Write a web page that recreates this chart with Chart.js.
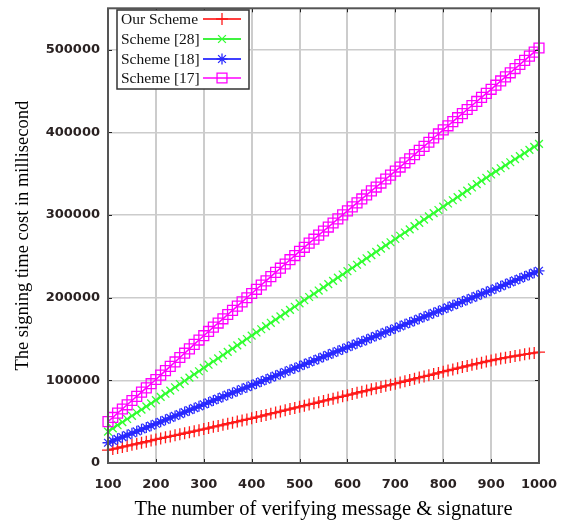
<!DOCTYPE html>
<html><head><meta charset="utf-8">
<script src="https://cdn.jsdelivr.net/npm/chart.js@4/dist/chart.umd.min.js"></script>
<style>html,body{margin:0;padding:0;background:#fff}#wrap{width:567px;height:523px}</style>
</head><body><div id="wrap"><canvas id="c" width="567" height="523"></canvas></div>
<script>
const messages = [100,110,120,130,140,150,160,170,180,190,
200,210,220,230,240,250,260,270,280,290,
300,310,320,330,340,350,360,370,380,390,
400,410,420,430,440,450,460,470,480,490,
500,510,520,530,540,550,560,570,580,590,
600,610,620,630,640,650,660,670,680,690,
700,710,720,730,740,750,760,770,780,790,
800,810,820,830,840,850,860,870,880,890,
900,910,920,930,940,950,960,970,980,990,1000];

const ourScheme = [15500,16900,18100,19400,20600,22000,23200,24500,25700,27100,
28500,29700,31000,32200,33500,34700,36000,37200,38500,39700,
41000,42300,43700,44900,46200,47600,48800,50100,51500,52700,
54000,55500,56800,58200,59700,61000,62400,63900,65200,66600,
68000,69400,70900,72200,73600,75100,76400,77800,79300,80600,
82000,83400,84900,86200,87600,89100,90400,91800,93300,94600,
96000,97500,98900,100400,101800,103300,104700,106100,107600,109000,
110500,111900,113200,114700,116000,117400,118700,120100,121400,122800,
124000,125200,126300,127400,128300,129400,130400,131400,132300,133200,
134000];

const scheme28 = [38000,41800,45700,49400,53200,57100,60800,64600,68500,72200,
76000,79900,83800,87600,91600,95500,99300,103300,107200,111000,
115000,118900,122800,126600,130600,134500,138300,142300,146200,150000,
154000,157900,161800,165600,169600,173500,177300,181300,185200,189000,
193000,196900,200800,204600,208600,212500,216300,220300,224200,228000,
232000,235900,239800,243600,247600,251500,255300,259300,263200,267000,
271000,274900,278800,282600,286600,290500,294300,298300,302200,306000,
310000,313900,317800,321600,325600,329500,333300,337300,341200,345000,
349000,352700,356500,360100,363800,367600,371200,374900,378700,382300,
386000];

const scheme18 = [24500,26800,29200,31400,33800,36000,38300,40700,42900,45200,
47500,49800,52200,54500,56900,59200,61600,63900,66300,68600,
71000,73300,75700,77900,80200,82600,84800,87100,89500,91700,
94000,96300,98700,100900,103200,105600,107800,110100,112500,114700,
117000,119300,121700,123900,126200,128600,130800,133100,135500,137700,
140000,142300,144700,146900,149200,151600,153800,156100,158500,160700,
163000,165300,167700,169900,172200,174600,176800,179100,181500,183700,
186000,188300,190700,192900,195200,197600,199800,202100,204500,206700,
209000,211400,213700,216100,218400,220800,223100,225500,227800,230200,
232500];

const scheme17 = [50000,55100,60300,65300,70400,75600,80600,85700,90900,95900,
101000,106300,111700,116900,122200,127600,132800,138100,143500,148700,
154000,159100,164300,169300,174400,179600,184600,189700,194900,199900,
205000,210100,215300,220300,225400,230600,235600,240700,245900,250900,
256000,260900,265900,270700,275600,280600,285400,290300,295300,300100,
305000,309800,314700,319400,324200,329100,333800,338600,343500,348200,
353000,358000,363100,368000,373000,378100,383000,388000,393100,398000,
403000,407900,412900,417700,422600,427600,432400,437300,442300,447100,
452000,457000,462100,467000,472000,477100,482000,487000,492100,497000,
502000];

const xTicks = [100,200,300,400,500,600,700,800,900,1000];
const yTicks = [0,100000,200000,300000,400000,500000];
const seriesNames = ['Our Scheme','Scheme [28]','Scheme [18]','Scheme [17]'];
const xTitle = 'The number of verifying message & signature';
const yTitle = 'The signing time cost in millisecond';

const styles = [
  {line:'#ff0000', mark:'#ff1a1a', shape:'cross', r:6},
  {line:'#00ee00', mark:'#33ff33', shape:'crossRot', r:5.5},
  {line:'#0000ff', mark:'#2a2aff', shape:'star', r:5.5},
  {line:'#ff00ff', mark:'#ff00ff', shape:'rect', r:7}
];
const seriesData = [ourScheme, scheme28, scheme18, scheme17];

const datasets = seriesData.map((arr, i) => ({
  label: seriesNames[i],
  data: arr.map((v, j) => ({x: messages[j], y: v})),
  borderColor: styles[i].line,
  borderWidth: 1.5,
  pointStyle: styles[i].shape,
  pointRadius: styles[i].r,
  pointBorderColor: styles[i].mark,
  pointBackgroundColor: 'rgba(0,0,0,0)',
  pointBorderWidth: 1.3,
  tension: 0,
  clip: false,
  order: 3 - i
}));

const framePlugin = {
  id: 'frame',
  afterDatasetsDraw(chart) {
    const {ctx, chartArea: a, scales} = chart;
    ctx.save();
    ctx.strokeStyle = '#222';
    ctx.lineWidth = 1;
    xTicks.forEach(v => {
      const x = Math.round(scales.x.getPixelForValue(v)) + 0.5;
      ctx.beginPath();
      ctx.moveTo(x, a.bottom); ctx.lineTo(x, a.bottom - 4);
      ctx.moveTo(x, a.top); ctx.lineTo(x, a.top + 4);
      ctx.stroke();
    });
    yTicks.forEach(v => {
      const y = Math.round(scales.y.getPixelForValue(v)) + 0.5;
      ctx.beginPath();
      ctx.moveTo(a.left, y); ctx.lineTo(a.left + 4, y);
      ctx.moveTo(a.right, y); ctx.lineTo(a.right - 4, y);
      ctx.stroke();
    });
    ctx.strokeStyle = '#555';
    ctx.lineWidth = 2;
    ctx.strokeRect(a.left, a.top, a.right - a.left, a.bottom - a.top);

    // legend box
    const bx = 117, by = 10, bw = 132, bh = 79;
    ctx.fillStyle = '#fff';
    ctx.fillRect(bx, by, bw, bh);
    ctx.strokeStyle = '#333';
    ctx.lineWidth = 1.5;
    ctx.strokeRect(bx, by, bw, bh);
    ctx.font = '15.5px "Liberation Serif", serif';
    ctx.textBaseline = 'middle';
    ctx.textAlign = 'left';
    const rows = [19, 39, 59, 78];
    seriesNames.forEach((name, i) => {
      const y = rows[i];
      ctx.fillStyle = '#111';
      ctx.fillText(name, 121, y + 1);
      ctx.strokeStyle = styles[i].line;
      ctx.lineWidth = 1.5;
      ctx.beginPath(); ctx.moveTo(203, y); ctx.lineTo(241, y); ctx.stroke();
      ctx.strokeStyle = styles[i].mark;
      ctx.fillStyle = 'rgba(0,0,0,0)';
      ctx.lineWidth = 1.3;
      Chart.helpers.drawPoint(ctx, {pointStyle: styles[i].shape, radius: styles[i].r, rotation: 0, borderWidth: 1.3}, 222, y);
    });
    ctx.restore();
  }
};

new Chart(document.getElementById('c'), {
  type: 'line',
  data: {datasets},
  options: {
    responsive: false,
    animation: false,
    layout: {padding: {top: 7, right: 28, left: 0, bottom: 0}},
    plugins: {legend: {display: false}, tooltip: {enabled: false}},
    scales: {
      x: {
        type: 'linear', min: 100, max: 1000,
        afterBuildTicks: s => { s.ticks = xTicks.map(v => ({value: v})); },
        afterFit: s => { s.height = 60; s.paddingRight = 0; s.paddingLeft = 0; },
        grid: {color: '#cccccc', lineWidth: 2, drawTicks: false},
        border: {display: false},
        ticks: {color: '#2a2222', font: {family: '"DejaVu Sans", sans-serif', size: 13, weight: 'bold'}, padding: 14, maxRotation: 0, callback: v => String(v)},
        title: {display: true, text: xTitle, color: '#000', font: {family: '"Liberation Serif", serif', size: 20.5}, padding: {top: 0, bottom: 1}}
      },
      y: {
        type: 'linear', min: 0, max: 550000,
        afterBuildTicks: s => { s.ticks = yTicks.map(v => ({value: v})); },
        afterFit: s => { s.width = 108; s.paddingTop = 0; s.paddingBottom = 0; },
        grid: {color: '#cccccc', lineWidth: 1.5, drawTicks: false},
        border: {display: false},
        ticks: {color: '#2a2222', font: {family: '"DejaVu Sans", sans-serif', size: 13, weight: 'bold'}, padding: 8, callback: v => String(v)},
        title: {display: true, text: yTitle, color: '#000', font: {family: '"Liberation Serif", serif', size: 18.5}, padding: {top: 12, bottom: 0}}
      }
    }
  },
  plugins: [framePlugin]
});
</script></body></html>
